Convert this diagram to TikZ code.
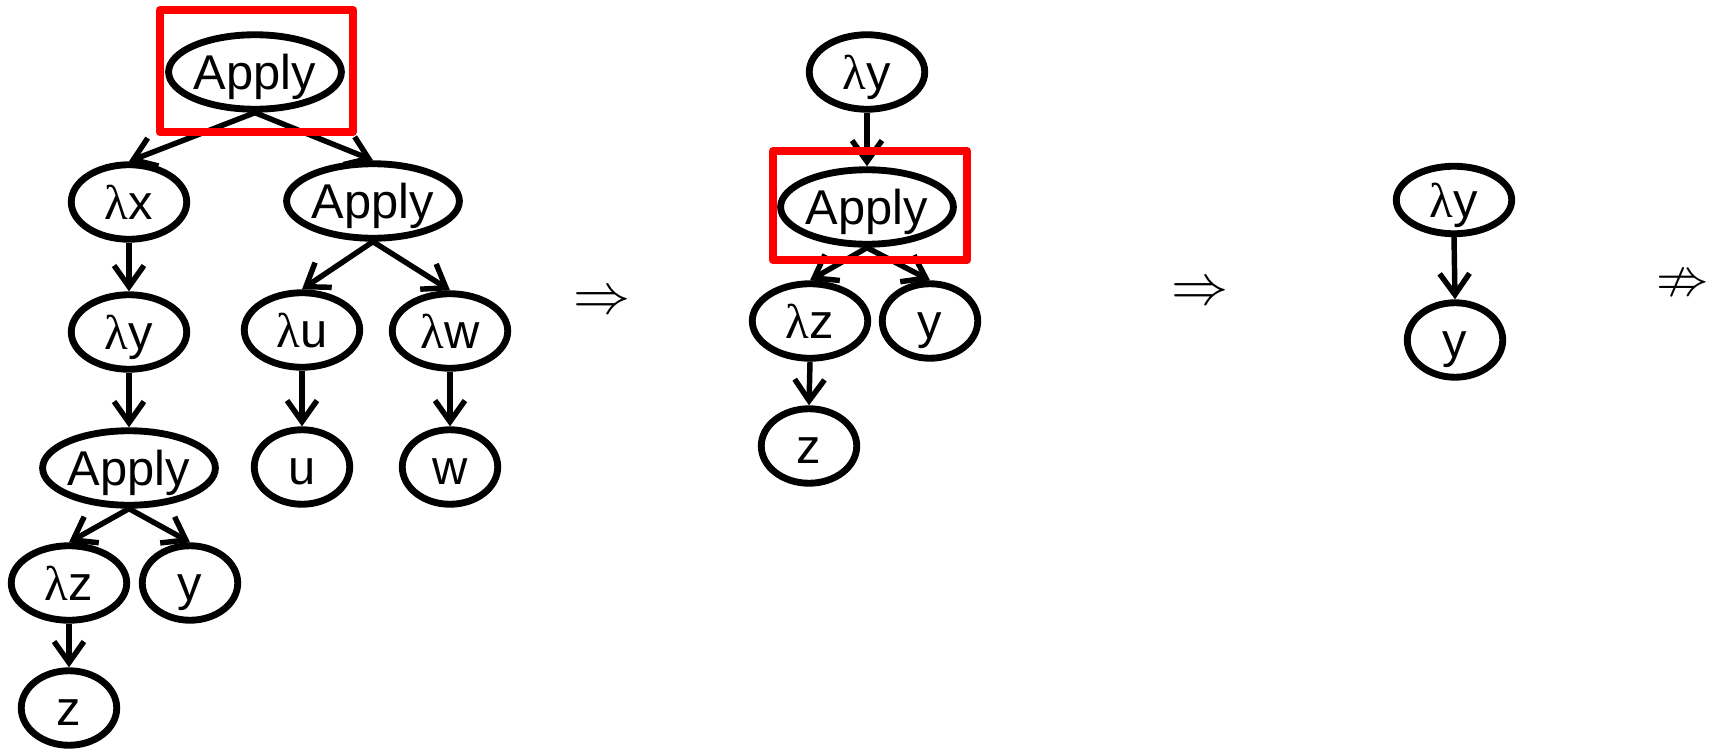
\documentclass[tikz,border=0pt]{standalone}
\usepackage{amssymb}
\usepackage{graphicx}
\usepackage{fontspec}
\setmainfont{Liberation Sans}
\newfontfamily\greekfont{Liberation Serif}
\usetikzlibrary{shapes.geometric,arrows.meta}
\newcommand{\lam}[1]{{\greekfont λ}#1}

\begin{document}
\begin{tikzpicture}[x=0.02cm,y=-0.02cm]
  \tikzset{vertex/.style = {draw, ellipse, line width=3.9pt, inner sep=0pt, minimum height=1.49cm, text height=20pt, text depth=0pt, font=\fontsize{27.8}{31}\selectfont}}
  \tikzset{absnode/.style = {vertex, minimum width=2.31cm}}
  \tikzset{varnode/.style = {vertex, minimum width=1.91cm}}
  \tikzset{appnode/.style = {vertex, minimum width=3.1cm}}
  \tikzset{arc/.style = {line width=3.1pt, -{Straight Barb[length=12pt,width=17pt]}}}
  \tikzset{redex/.style = {draw=red, line width=4.5pt, line join=round}}

  \useasboundingbox (0,0) rectangle (1717,750);

% first term
\node[appnode] (apA) at (255,72) {Apply};
\node[absnode] (lx) at (129,202) {\lam{x}};
\node[appnode] (apB) at (373,201) {Apply};
\node[absnode] (ly) at (129,332) {\lam{y}};
\node[absnode] (lu) at (302,330) {\lam{u}};
\node[absnode] (lw) at (450,331) {\lam{w}};
\node[appnode] (apC) at (129,468) {Apply};
\node[varnode] (u) at (302,467) {u};
\node[varnode] (w) at (450,467) {w};
\node[absnode] (lz) at (69,583) {\lam{z}};
\node[varnode] (y) at (190,583) {y};
\node[varnode] (z) at (69,708) {z};

% second term
\node[absnode] (ly2) at (867,72) {\lam{y}};
\node[appnode] (ap2) at (867,207) {Apply};
\node[absnode] (lz2) at (810,321) {\lam{z}};
\node[varnode] (y2) at (930,321) {y};
\node[varnode] (z2) at (809,446) {z};

% third term
\node[absnode, minimum height=1.35cm] (ly3) at (1454,200) {\lam{y}};
\node[varnode] (y3) at (1455,340) {y};

% reduction steps
\node[inner sep=0pt] (to1) at (602,303) {\scalebox{3.25}{$\Rightarrow$}};
\node[inner sep=0pt] (to2) at (1200,294) {\scalebox{3.25}{$\Rightarrow$}};
\node[inner sep=0pt] (nto) at (1683,286) {\scalebox{3.0}{$\nRightarrow$}};

    \path (apA.south) edge[arc] (lx.north);
    \path (apA.south) edge[arc] (apB.north);
    \path (lx.south) edge[arc] (ly.north);
    \path (ly.south) edge[arc] (apC.north);
    \path (apB.south) edge[arc] (lu.north);
    \path (apB.south) edge[arc] (lw.north);
    \path (lu.south) edge[arc] (u.north);
    \path (lw.south) edge[arc] (w.north);
    \path (apC.south) edge[arc] (lz.north);
    \path (apC.south) edge[arc] (y.north);
    \path (lz.south) edge[arc] (z.north);

    \path (ly2.south) edge[arc] (ap2.north);
    \path (ap2.south) edge[arc] (lz2.north);
    \path (ap2.south) edge[arc] (y2.north);
    \path (lz2.south) edge[arc] (z2.north);

    \path (ly3.south) edge[arc] (y3.north);

% redexes
\draw[redex] (160,10) rectangle (353,132);
\draw[redex] (773,151) rectangle (967,260);

\end{tikzpicture}
\end{document}
